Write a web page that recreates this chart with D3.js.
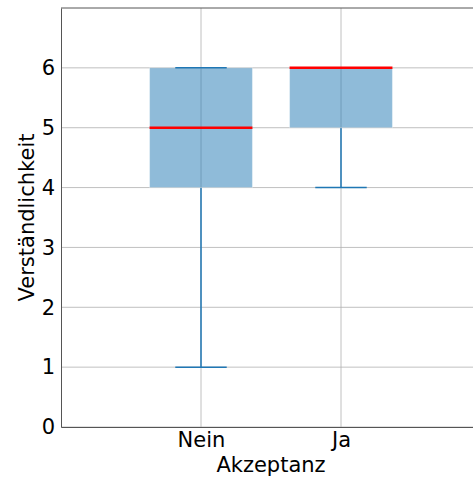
<!DOCTYPE html>
<html>
<head>
<meta charset="utf-8">
<script src="https://cdn.jsdelivr.net/npm/d3@7"></script>
<style>
  body { margin: 0; background: #fff; }
  svg { font-family: "DejaVu Sans", sans-serif; }
</style>
</head>
<body>
<svg width="473" height="477"></svg>
<script>
// Box statistics
const categories = ["Nein", "Ja"];
const q1 = [4, 5];
const median = [5, 6];
const q3 = [6, 6];
const whiskLow = [1, 4];
const whiskHigh = [6, 6];
const yTicks = [0, 1, 2, 3, 4, 5, 6];

const svg = d3.select("svg"),
      margin = {top: 8, left: 61, bottom: 50};
const height = +svg.attr("height");

// x in box positions (1, 2), limits 0..3; right edge falls just outside the picture
const x = d3.scaleLinear().domain([0, 3]).range([margin.left, 481]);
const y = d3.scaleLinear().domain([0, 7]).range([height - margin.bottom, margin.top]);

// Grid
svg.append("g").selectAll("line").data(yTicks).join("line")
    .attr("x1", x(0)).attr("x2", x(3))
    .attr("y1", d => y(d)).attr("y2", d => y(d))
    .attr("stroke", "#b0b0b0").attr("stroke-width", 0.8);
svg.append("g").selectAll("line").data(categories).join("line")
    .attr("x1", (d, i) => x(i + 1)).attr("x2", (d, i) => x(i + 1))
    .attr("y1", y(0)).attr("y2", y(7))
    .attr("stroke", "#b0b0b0").attr("stroke-width", 0.8);

const boxW = 0.735, capW = boxW / 2;
const boxes = svg.append("g").selectAll("g").data(categories).join("g");

// Whiskers
boxes.append("line")
    .attr("x1", (d, i) => x(i + 1)).attr("x2", (d, i) => x(i + 1))
    .attr("y1", (d, i) => y(q1[i])).attr("y2", (d, i) => y(whiskLow[i]))
    .attr("stroke", "#1f77b4").attr("stroke-width", 1.5);
boxes.append("line")
    .attr("x1", (d, i) => x(i + 1)).attr("x2", (d, i) => x(i + 1))
    .attr("y1", (d, i) => y(q3[i])).attr("y2", (d, i) => y(whiskHigh[i]))
    .attr("stroke", "#1f77b4").attr("stroke-width", 1.5);

// Boxes
boxes.append("rect")
    .attr("x", (d, i) => x(i + 1 - boxW / 2))
    .attr("width", x(boxW) - x(0))
    .attr("y", (d, i) => y(q3[i]))
    .attr("height", (d, i) => y(q1[i]) - y(q3[i]))
    .attr("fill", "#1f77b4").attr("fill-opacity", 0.5)
    .attr("stroke", "#ffffff").attr("stroke-opacity", 0.4).attr("stroke-width", 1);

// Caps
boxes.append("line")
    .attr("x1", (d, i) => x(i + 1 - capW / 2)).attr("x2", (d, i) => x(i + 1 + capW / 2))
    .attr("y1", (d, i) => y(whiskLow[i])).attr("y2", (d, i) => y(whiskLow[i]))
    .attr("stroke", "#1f77b4").attr("stroke-width", 1.5);
boxes.append("line")
    .attr("x1", (d, i) => x(i + 1 - capW / 2)).attr("x2", (d, i) => x(i + 1 + capW / 2))
    .attr("y1", (d, i) => y(whiskHigh[i])).attr("y2", (d, i) => y(whiskHigh[i]))
    .attr("stroke", "#1f77b4").attr("stroke-width", 1.5);

// Medians
boxes.append("line")
    .attr("x1", (d, i) => x(i + 1 - boxW / 2)).attr("x2", (d, i) => x(i + 1 + boxW / 2))
    .attr("y1", (d, i) => y(median[i])).attr("y2", (d, i) => y(median[i]))
    .attr("stroke", "#ff0000").attr("stroke-width", 2.5);

// Axes
const xAxis = svg.append("g")
    .attr("transform", `translate(0,${y(0)})`)
    .call(d3.axisBottom(x).tickValues([1, 2]).tickFormat((d) => categories[d - 1])
        .tickSize(0).tickPadding(5));
const yAxis = svg.append("g")
    .attr("transform", `translate(${x(0)},0)`)
    .call(d3.axisLeft(y).tickValues(yTicks).tickFormat(d3.format("d"))
        .tickSize(0).tickPadding(6));
[xAxis, yAxis].forEach(g => {
    g.select(".domain").attr("stroke", "#555").attr("stroke-width", 1);
    g.selectAll("text").attr("font-size", 21).attr("fill", "#000")
        .attr("font-family", "DejaVu Sans, sans-serif");
});
// Top spine
svg.append("line")
    .attr("x1", x(0)).attr("x2", x(3)).attr("y1", y(7)).attr("y2", y(7))
    .attr("stroke", "#555").attr("stroke-width", 1);

// Labels
svg.append("text")
    .attr("x", x(1.5)).attr("y", 472)
    .attr("text-anchor", "middle").attr("font-size", 21)
    .text("Akzeptanz");
svg.append("text")
    .attr("transform", `translate(34,${y(3.5)}) rotate(-90)`)
    .attr("text-anchor", "middle").attr("font-size", 21)
    .text("Verständlichkeit");
</script>
</body>
</html>
